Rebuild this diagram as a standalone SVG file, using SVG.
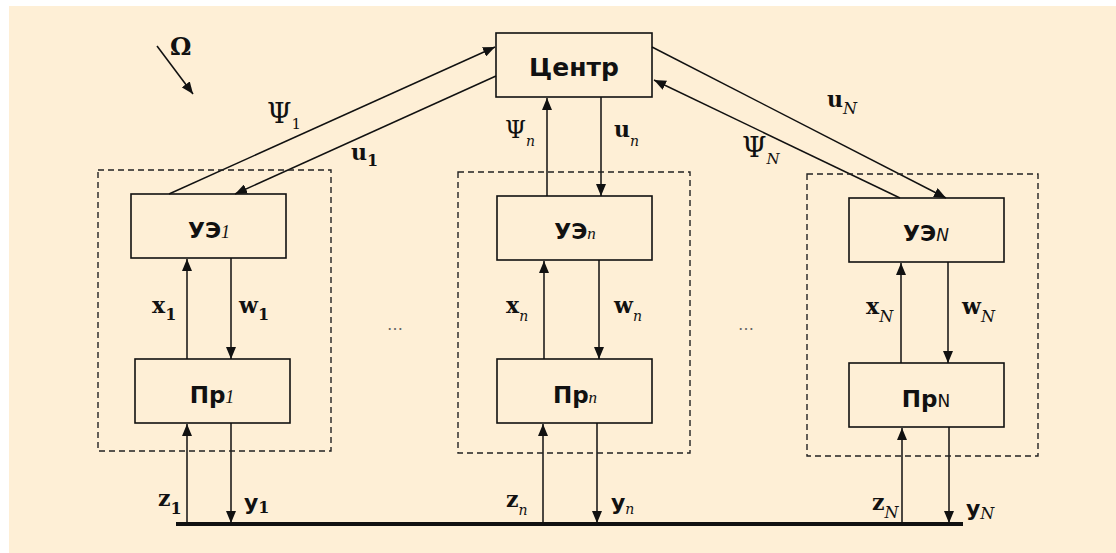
<svg xmlns="http://www.w3.org/2000/svg" width="1116" height="553" viewBox="0 0 1116 553">
<style>
.box{fill:none;stroke:#111;stroke-width:1.6}
.grp{fill:none;stroke:#222;stroke-width:1.4;stroke-dasharray:6 4}
.ln{stroke:#111;stroke-width:1.5;fill:none;marker-end:url(#ah)}
.nm{font-family:"DejaVu Sans",sans-serif;font-weight:bold;fill:#111;text-anchor:middle}
.sr{font-family:"DejaVu Serif",serif;fill:#111}
.b{font-weight:bold}
.it{font-style:italic}
.sub{font-family:"Liberation Serif",serif;font-style:italic;font-weight:normal}
</style>
<defs>
<marker id="ah" viewBox="0 0 12 10" refX="12" refY="5" markerWidth="12" markerHeight="10" orient="auto" markerUnits="userSpaceOnUse">
<path d="M0,0 L12,5 L0,10 z" fill="#111"/>
</marker>
</defs>
<rect x="0" y="0" width="1116" height="553" fill="#ffffff"/>
<rect x="9" y="6" width="1107" height="547" fill="#FEEFD6"/>

<g id="connectors">
<line class="ln" x1="157" y1="46" x2="193" y2="94"/>
<line class="ln" x1="169" y1="194" x2="495" y2="47"/>
<line class="ln" x1="496" y1="76" x2="235" y2="194"/>
<line class="ln" x1="547" y1="196" x2="547" y2="98"/>
<line class="ln" x1="601" y1="97" x2="601" y2="196"/>
<line class="ln" x1="652" y1="47" x2="946" y2="198"/>
<line class="ln" x1="900" y1="198" x2="654" y2="80"/>
<line class="ln" x1="187" y1="359" x2="187" y2="259"/>
<line class="ln" x1="231" y1="258" x2="231" y2="359"/>
<line class="ln" x1="187" y1="524" x2="187" y2="424"/>
<line class="ln" x1="231" y1="423" x2="231" y2="523"/>
<line class="ln" x1="544" y1="359" x2="544" y2="261"/>
<line class="ln" x1="599" y1="260" x2="599" y2="359"/>
<line class="ln" x1="543" y1="524" x2="543" y2="424"/>
<line class="ln" x1="597" y1="423" x2="597" y2="523"/>
<line class="ln" x1="901" y1="363" x2="901" y2="263"/>
<line class="ln" x1="948" y1="262" x2="948" y2="363"/>
<line class="ln" x1="902" y1="524" x2="902" y2="428"/>
<line class="ln" x1="949" y1="427" x2="949" y2="523"/>
<line x1="176" y1="524" x2="963" y2="524" stroke="#111" stroke-width="4"/>
</g>

<g id="omega"><text class="sr b" x="170" y="55" font-size="24">Ω</text></g>

<g id="center">
<rect class="box" x="496" y="33" width="156" height="64"/>
<text class="nm" x="574" y="76" font-size="25">Центр</text>
</g>

<g id="group1"><rect class="grp" x="98" y="170" width="233" height="281"/></g>
<g id="groupn"><rect class="grp" x="458" y="172" width="232" height="281"/></g>
<g id="groupN"><rect class="grp" x="807" y="174" width="231" height="282"/></g>

<g id="ue1">
<rect class="box" x="131" y="194" width="155" height="64"/>
<text class="nm" x="209" y="238" font-size="22">УЭ<tspan class="sub" font-size="18">1</tspan></text>
</g>
<g id="uen">
<rect class="box" x="497" y="196" width="155" height="64"/>
<text class="nm" x="575" y="239" font-size="22">УЭ<tspan class="sub" font-size="17">n</tspan></text>
</g>
<g id="ueN">
<rect class="box" x="849" y="198" width="155" height="64"/>
<text class="nm" x="926" y="241" font-size="22">УЭ<tspan font-family="'DejaVu Sans',sans-serif" font-style="italic" font-weight="normal" font-size="17">N</tspan></text>
</g>

<g id="pr1">
<rect class="box" x="135" y="359" width="155" height="64"/>
<text class="nm" x="212" y="403" font-size="23">Пр<tspan class="sub" font-size="18">1</tspan></text>
</g>
<g id="prn">
<rect class="box" x="497" y="359" width="155" height="64"/>
<text class="nm" x="575" y="403" font-size="23">Пр<tspan class="sub" font-size="17">n</tspan></text>
</g>
<g id="prN">
<rect class="box" x="849" y="363" width="155" height="64"/>
<text class="nm" x="926" y="407" font-size="23">Пр<tspan font-family="'DejaVu Sans',sans-serif" font-weight="normal" font-size="17">N</tspan></text>
</g>

<g id="labels">
<text class="sr" x="267" y="123" font-size="28">Ψ<tspan font-size="15" dy="6">1</tspan></text>
<text class="sr b" x="351" y="160" font-size="22">u<tspan font-size="16" dy="6">1</tspan></text>
<text class="sr" x="505" y="138" font-size="24">Ψ<tspan class="it" font-size="14" dy="8">n</tspan></text>
<text class="sr b" x="614" y="137" font-size="22">u<tspan class="it" font-weight="normal" font-size="14" dy="9">n</tspan></text>
<text class="sr b" x="827" y="107" font-size="22">u<tspan class="it" font-weight="normal" font-size="16" dy="7">N</tspan></text>
<text class="sr" x="742" y="157" font-size="28">Ψ<tspan class="it" font-size="15" dy="7">N</tspan></text>

<text class="sr b" x="152" y="313" font-size="22">x<tspan font-size="16" dy="7">1</tspan></text>
<text class="sr b" x="239" y="313" font-size="22">w<tspan font-size="16" dy="7">1</tspan></text>
<text class="sr b" x="506" y="313" font-size="22">x<tspan class="it" font-weight="normal" font-size="14" dy="8">n</tspan></text>
<text class="sr b" x="614" y="313" font-size="22">w<tspan class="it" font-weight="normal" font-size="14" dy="8">n</tspan></text>
<text class="sr b" x="866" y="314" font-size="22">x<tspan class="it" font-weight="normal" font-size="16" dy="8">N</tspan></text>
<text class="sr b" x="962" y="314" font-size="22">w<tspan class="it" font-weight="normal" font-size="16" dy="8">N</tspan></text>

<text class="sr b" x="158" y="506" font-size="22">z<tspan font-size="16" dy="8">1</tspan></text>
<text x="244" y="510" font-family="'DejaVu Sans',sans-serif" font-weight="bold" font-size="22" fill="#111">y<tspan font-family="'DejaVu Serif',serif" font-size="16" dy="3">1</tspan></text>
<text class="sr b" x="506" y="507" font-size="22">z<tspan class="it" font-weight="normal" font-size="14" dy="8">n</tspan></text>
<text x="611" y="510" font-family="'DejaVu Sans',sans-serif" font-weight="bold" font-size="22" fill="#111">y<tspan font-family="'DejaVu Serif',serif" font-style="italic" font-weight="normal" font-size="14" dy="4">n</tspan></text>
<text class="sr b" x="872" y="510" font-size="22">z<tspan class="it" font-weight="normal" font-size="16" dy="8">N</tspan></text>
<text x="966" y="516" font-family="'DejaVu Sans',sans-serif" font-weight="bold" font-size="22" fill="#111">y<tspan font-family="'DejaVu Serif',serif" font-style="italic" font-weight="normal" font-size="16" dy="3">N</tspan></text>

<text x="395" y="330" font-family="'DejaVu Sans',sans-serif" font-size="16" fill="#666" text-anchor="middle">…</text>
<text x="746" y="330" font-family="'DejaVu Sans',sans-serif" font-size="16" fill="#666" text-anchor="middle">…</text>
</g>
</svg>
